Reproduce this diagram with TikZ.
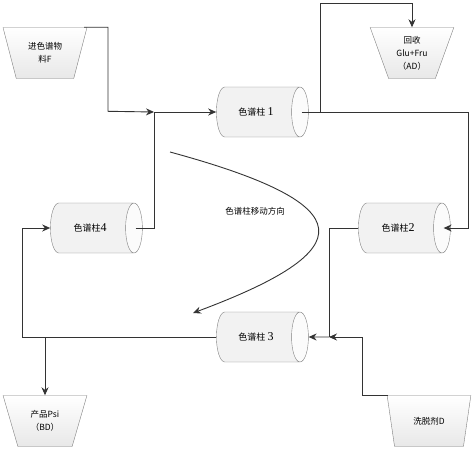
\documentclass[tikz,border=0pt]{standalone}
\usepackage{fontspec}
\setmainfont{Liberation Serif}
\newfontfamily\cjk{Noto Sans CJK SC}
\usetikzlibrary{shapes.geometric, positioning, arrows.meta}
\tikzset{
>={Stealth[length=8pt,width=7pt]}, % filled arrow heads
flow/.style={draw=black!80, line width=0.9pt}, % the pipes between the parts
column/.style={cylinder, draw=gray, thin, aspect=1.1, minimum width=50pt, minimum height=92pt,
  cylinder uses custom fill, cylinder body fill=gray!10, cylinder end fill=gray!3,
  font=\cjk\fontsize{9}{13}\selectfont}, % the four columns
tank/.style={trapezium, shape border rotate=180, trapezium left angle=70, trapezium right angle=70,
  trapezium stretches=true, minimum width=84pt, minimum height=51pt, draw=gray, thin,
  top color=white, bottom color=gray!18, align=center, inner sep=1pt,
  font=\cjk\fontsize{8.5}{13}\selectfont}, % feed and outlet vessels
}
\newcommand{\colno}[1]{\rmfamily\fontsize{12}{13}\selectfont #1}

\begin{document}
\begin{tikzpicture}[x=1pt, y=-1pt]
    \useasboundingbox (0,0) rectangle (474,450);

    \node[tank] (F) at (45,53) {进色谱物\\料F};
    \node[tank] (AD) at (412,53) {回收\\Glu+Fru\\（AD）};
    \node[tank] (BD) at (45,421) {产品Psi\\（BD）};
    \node[tank] (D) at (429,421) {洗脱剂D};

    \node[column] (c1) at (256,112) {色谱柱 \colno{1}};
    \node[column] (c3) at (256,337) {色谱柱 \colno{3}};
    \node[column] (c4) at (90,228) {色谱柱\colno{4}};
    \node[column] (c2) at (398,228) {色谱柱\colno{2}};

    \coordinate (j1) at (154,112);
    \coordinate (j2) at (320,112);
    \coordinate (j3) at (329,337);
    \coordinate (j4) at (BD.north |- c3.west);
    \coordinate (c1f) at ([xshift=-7pt]c1.east);
    \coordinate (c2f) at ([xshift=-7pt]c2.east);
    \coordinate (c4f) at ([xshift=-7pt]c4.east);
    \coordinate (Fo) at ([xshift=39pt]F.north);
    \coordinate (Do) at ([xshift=-41pt]D.north);

    \draw[flow, ->] (Fo) -| ++(24,84) -- (j1);
    \draw[flow, ->] (j1) -- (c1.west);
    \draw[flow] (c4f) -| (j1);
    \draw[flow, ->] (c1f) -- ++(167,0) |- (c2f);
    \draw[flow, ->] (j2) -- ++(0,-109) -| (AD.north);
    \draw[flow] (c2.west) -| (j3);
    \draw[flow, ->] (Do) -- ++(-26,0) |- (j3);
    \draw[flow, ->] (j3) -- (c3.east);
    \draw[flow, ->] (c3.west) -| ++(-194,-109) -- (c4.west);
    \draw[flow, ->] (j4) -- (BD.north);

    % direction in which the columns move
    \coordinate (m1) at (170,152);
    \coordinate (m2) at (193,313);
    \draw[flow, ->] (m1) .. controls (365,205) and (362,250) .. (m2);
    \node[font=\cjk\fontsize{8.5}{13}\selectfont] (mv) at (255,211) {色谱柱移动方向};

\end{tikzpicture}
\end{document}
